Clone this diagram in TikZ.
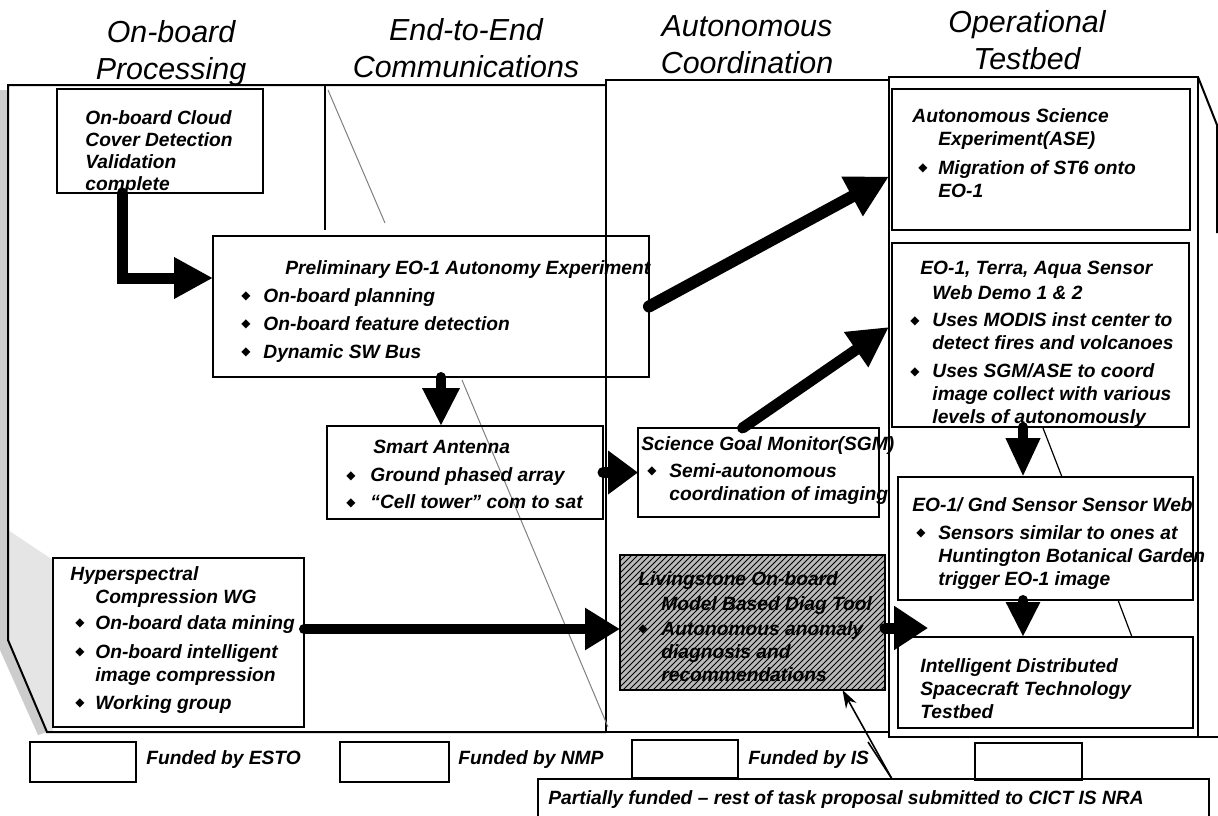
\documentclass[tikz,border=0pt]{standalone}
\usepackage{fontspec}
\setmainfont{Liberation Sans}
\newfontfamily\dejavu{DejaVu Sans}
\usetikzlibrary{arrows.meta,patterns,calc}
\newcommand\bl[2]{\hspace*{#1pt}\makebox[#2pt][l]{\raisebox{1.2pt}{\dejavu\fontsize{6}{6}\selectfont ◆}}}
\newcommand\ind[1]{\hspace*{#1pt}}
\begin{document}
\begin{tikzpicture}[x=0.5pt,y=-0.5pt,
  box/.style={draw, line width=1.2pt, anchor=north west, inner sep=0pt, outer sep=0pt},
  legbox/.style={draw, line width=1pt, anchor=north west, inner sep=0pt, outer sep=0pt},
  txt/.style={anchor=north west, inner sep=0pt, align=left, font=\bfseries\itshape\fontsize{9.6}{11.5}\selectfont},
  legtxt/.style={anchor=west, inner sep=0pt, font=\bfseries\itshape\fontsize{9.6}{11.5}\selectfont},
  head/.style={anchor=north, inner sep=0pt, align=center, font=\itshape\fontsize{15.2}{18.5}\selectfont},
  frame/.style={line width=1pt},
  persp/.style={line width=0.5pt, gray},
  fat/.style={line width=5.5pt, line cap=round}
]
\useasboundingbox (0,0) rectangle (1218,815);

% background shading lower left
\fill[gray!40] (0,90) -- (8,90) -- (8,640) -- (47,732) -- (38,735) -- (0,650) -- cycle;
\fill[gray!20] (8,530) -- (53,560) -- (53,732) -- (47,732) -- (8,640) -- cycle;

% headers
\node[head] (h1) at (171,20) {On-board\\Processing};
\node[head] (h2) at (466,18) {End-to-End\\Communications};
\node[head] (h3) at (747,15) {Autonomous\\Coordination};
\node[head] (h4) at (1027,10) {Operational\\Testbed};

% frames
\draw[frame] (606,85) -- (8,85) -- (8,640) -- (47,732) -- (606,732);
\draw[frame] (325,85) -- (325,230);
\draw[frame] (606,80) rectangle (889,732);
\draw[frame] (889,77) rectangle (1198,737);
\draw[frame] (1198,737) -- (1218,737);
\draw[frame] (1198,77) -- (1217,125) -- (1217,233);
\draw[persp] (328,90) -- (385,223);
\draw[persp] (462,380) -- (608,727);
\draw[line width=0.6pt] (1043,428) -- (1062,477);
\draw[line width=0.6pt] (1118,600) -- (1132,637);

% boxes
\node[box, minimum width=103pt, minimum height=52pt] (cloud) at (57,89) {};
\node[box, minimum width=218pt, minimum height=70.5pt] (prelim) at (213,236) {};
\node[box, minimum width=138pt, minimum height=46.5pt] (sa) at (327,426) {};
\node[box, minimum width=120.5pt, minimum height=44.5pt] (sgm) at (638,428) {};
\node[box, minimum width=125.5pt, minimum height=84.5pt] (hyper) at (53,558) {};
\node[box, minimum width=132.5pt, minimum height=67.5pt, fill=gray!55,
      postaction={pattern=north east lines, pattern color=black}] (living) at (620,555) {};
\node[box, minimum width=149pt, minimum height=70.5pt] (ase) at (892,89) {};
\node[box, minimum width=148.5pt, minimum height=92pt] (eo1t) at (892,243) {};
\node[box, minimum width=147.5pt, minimum height=61.5pt] (eo1g) at (898,477) {};
\node[box, minimum width=147.5pt, minimum height=45.5pt] (idst) at (898,637) {};

% texts
\node[txt, font=\bfseries\itshape\fontsize{9.6}{11}\selectfont] (cloudt) at (85,110)
  {On-board Cloud\\Cover Detection\\Validation\\complete};
\node[txt] (prelimt) at (241,260)
  {\ind{22}Preliminary EO-1 Autonomy Experiment\\[2.5pt]
   \bl{0}{11}On-board planning\\[2.5pt]
   \bl{0}{11}On-board feature detection\\[2.5pt]
   \bl{0}{11}Dynamic SW Bus};
\node[txt] (sat) at (346,440)
  {\ind{13.5}Smart Antenna\\[2.5pt]
   \bl{0}{12}Ground phased array\\[2pt]
   \bl{0}{12}“Cell tower” com to sat};
\node[txt] (sgmt) at (641,436)
  {Science Goal Monitor(SGM)\\[2pt]
   \bl{3}{11}Semi-autonomous\\
   \ind{14}coordination of imaging};
\node[txt] (hypert) at (70,566)
  {Hyperspectral\\
   \ind{12.5}Compression WG\\[1.5pt]
   \bl{2.5}{10}On-board data mining\\[3pt]
   \bl{2.5}{10}On-board intelligent\\
   \ind{12.5}image compression\\[2.5pt]
   \bl{2.5}{10}Working group};
\node[txt] (livingt) at (638,571)
  {Livingstone On-board\\[1pt]
   \ind{11.5}Model Based Diag Tool\\[1pt]
   \bl{0}{11.5}Autonomous anomaly\\
   \ind{11.5}diagnosis and\\
   \ind{11.5}recommendations};
\node[txt] (aset) at (912,108)
  {Autonomous Science\\
   \ind{13}Experiment(ASE)\\[3pt]
   \bl{3}{10}Migration of ST6 onto\\
   \ind{13}EO-1};
\node[txt] (eo1tt) at (910,261)
  {\ind{5}EO-1, Terra, Aqua Sensor\\[1pt]
   \ind{11}Web Demo 1 \& 2\\[2pt]
   \bl{0}{11}Uses MODIS inst center to\\
   \ind{11}detect fires and volcanoes\\[2.5pt]
   \bl{0}{11}Uses SGM/ASE to coord\\
   \ind{11}image collect with various\\
   \ind{11}levels of autonomously};
\node[txt] (eo1gt) at (912,497)
  {EO-1/ Gnd Sensor Sensor Web\\[2.5pt]
   \bl{2}{11}Sensors similar to ones at\\
   \ind{13}Huntington Botanical Garden\\
   \ind{13}trigger EO-1 image};
\node[txt] (idstt) at (920,658)
  {Intelligent Distributed\\
   Spacecraft Technology\\
   Testbed};

% legend
\node[legbox, minimum width=53pt, minimum height=20pt] (leg1) at (30,742) {};
\node[legbox, minimum width=54.5pt, minimum height=20pt] (leg2) at (340,742) {};
\node[legbox, minimum width=53pt, minimum height=19pt] (leg3) at (632,740) {};
\node[legbox, minimum width=53.5pt, minimum height=18.5pt] (leg4) at (975,743) {};
\node[legtxt] (leg1t) at (146,760) {Funded by ESTO};
\node[legtxt] (leg2t) at (458,760) {Funded by NMP};
\node[legtxt] (leg3t) at (748,760) {Funded by IS};
\node[legbox, minimum width=335.5pt, minimum height=20pt] (partial) at (538,779) {};
\node[legtxt] (partialt) at (548,800) {Partially funded -- rest of task proposal submitted to CICT IS NRA};

% connectors
\coordinate (e1) at (122,278);
\draw[fat, -{Triangle[length=19.5pt,width=19.5pt]}] (e1 |- cloud.south) -- (e1) -- (e1 -| prelim.west);
\coordinate (a2x) at (441,0);
\draw[fat, line width=5pt, -{Triangle[length=19pt,width=17.5pt]}] (a2x |- prelim.south) -- (a2x |- sa.north);
\draw[fat, line width=6pt, -{Triangle[length=21pt,width=21pt]}] (prelim.east) -- ($(ase.west)+(-3,17)$);
\draw[fat, -{Triangle[length=20pt,width=20pt]}] ($(sgm.north)+(-16,0)$) -- ($(eo1t.west)+(-3,-8)$);
\draw[fat, -{Triangle[length=15pt,width=21pt]}] (sa.east) -- (sgm.west);
\coordinate (a6y) at (0,629);
\draw[fat, line width=5pt, -{Triangle[length=17.5pt,width=20pt]}] (hyper.east |- a6y) -- (living.west |- a6y);
\coordinate (a7e) at (928,628);
\draw[fat, -{Triangle[length=17pt,width=21pt]}] (living.east |- a7e) -- (a7e);
\coordinate (a8x) at (1023,0);
\draw[fat, line width=5pt, -{Triangle[length=19.5pt,width=16pt]}] (a8x |- eo1t.south) -- (a8x |- eo1g.north);
\draw[fat, line width=5pt, -{Triangle[length=17.5pt,width=16pt]}] (a8x |- eo1g.south) -- (a8x |- idst.north);
\coordinate (pv) at (892,779);
\coordinate (pvt) at (868,742);
\draw[line width=0.8pt, -{Stealth[length=9pt,width=6pt]}] (pv) -- ($(living.south)+(90,0)$);
\draw[line width=0.8pt] (pvt) -- (pv);
\end{tikzpicture}
\end{document}
